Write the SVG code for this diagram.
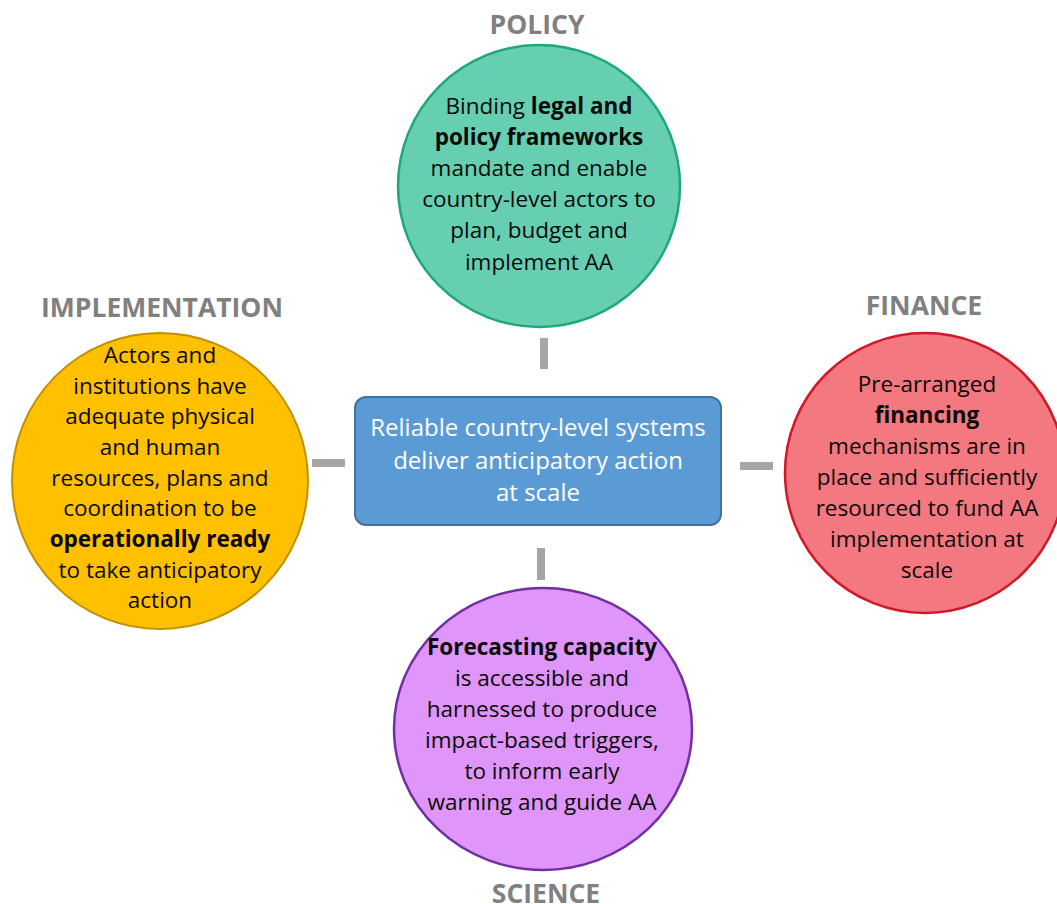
<svg xmlns="http://www.w3.org/2000/svg" width="1057" height="904" viewBox="0 0 1057 904">
<style>
text{font-family:"Open Sans","Noto Sans","Liberation Sans",sans-serif;}
.body{font-size:22.5px;fill:#0a0a0a;text-anchor:middle;}
.b{font-weight:bold;}
.lbl{font-size:26.5px;font-weight:bold;fill:#808080;text-anchor:middle;}
.ctr{font-size:24px;fill:#fff;text-anchor:middle;}
.bar{fill:#a6a6a6;}
</style>
<rect width="1057" height="904" fill="#fff"/>
<g id="connectors">
<rect class="bar" x="540" y="338" width="8" height="31"/>
<rect class="bar" x="537" y="548" width="8" height="32"/>
<rect class="bar" x="312" y="459" width="33" height="8"/>
<rect class="bar" x="740" y="462" width="33" height="8"/>
</g>
<g id="center">
<rect x="355" y="397" width="366" height="128" rx="11" fill="#5b9bd5" stroke="#41719c" stroke-width="2"/>
<text class="ctr" x="538"><tspan x="538" y="436">Reliable country-level systems</tspan><tspan x="538" y="469">deliver anticipatory action</tspan><tspan x="538" y="501">at scale</tspan></text>
</g>
<g id="policy">
<text class="lbl" x="537" y="34">POLICY</text>
<circle cx="539" cy="186" r="141" fill="#66cfb1" stroke="#1da878" stroke-width="2.5"/>
<text class="body"><tspan x="539" y="114">Binding <tspan class="b">legal and</tspan></tspan><tspan x="539" y="145" class="b">policy frameworks</tspan><tspan x="539" y="176">mandate and enable</tspan><tspan x="539" y="207">country-level actors to</tspan><tspan x="539" y="238">plan, budget and</tspan><tspan x="539" y="270">implement AA</tspan></text>
</g>
<g id="implementation">
<text class="lbl" x="162" y="317">IMPLEMENTATION</text>
<circle cx="160" cy="481" r="148" fill="#ffc000" stroke="#bf9000" stroke-width="2"/>
<text class="body"><tspan x="160" y="363">Actors and</tspan><tspan x="160" y="394">institutions have</tspan><tspan x="160" y="424">adequate physical</tspan><tspan x="160" y="455">and human</tspan><tspan x="160" y="486">resources, plans and</tspan><tspan x="160" y="516">coordination to be</tspan><tspan x="160" y="547" class="b">operationally ready</tspan><tspan x="160" y="578">to take anticipatory</tspan><tspan x="160" y="608">action</tspan></text>
</g>
<g id="finance">
<text class="lbl" x="924" y="315">FINANCE</text>
<circle cx="925" cy="473" r="140" fill="#f4787f" stroke="#d0182a" stroke-width="2.5"/>
<text class="body"><tspan x="927" y="392">Pre-arranged</tspan><tspan x="927" y="423" class="b">financing</tspan><tspan x="927" y="454">mechanisms are in</tspan><tspan x="927" y="485">place and sufficiently</tspan><tspan x="927" y="516">resourced to fund AA</tspan><tspan x="927" y="547">implementation at</tspan><tspan x="927" y="578">scale</tspan></text>
</g>
<g id="science">
<ellipse cx="543" cy="729" rx="149" ry="141" fill="#df95fa" stroke="#7030a0" stroke-width="2.5"/>
<text class="body"><tspan x="542" y="655" class="b">Forecasting capacity</tspan><tspan x="542" y="686">is accessible and</tspan><tspan x="542" y="717">harnessed to produce</tspan><tspan x="542" y="748">impact-based triggers,</tspan><tspan x="542" y="779">to inform early</tspan><tspan x="542" y="810">warning and guide AA</tspan></text>
<text class="lbl" x="546" y="903">SCIENCE</text>
</g>
</svg>
